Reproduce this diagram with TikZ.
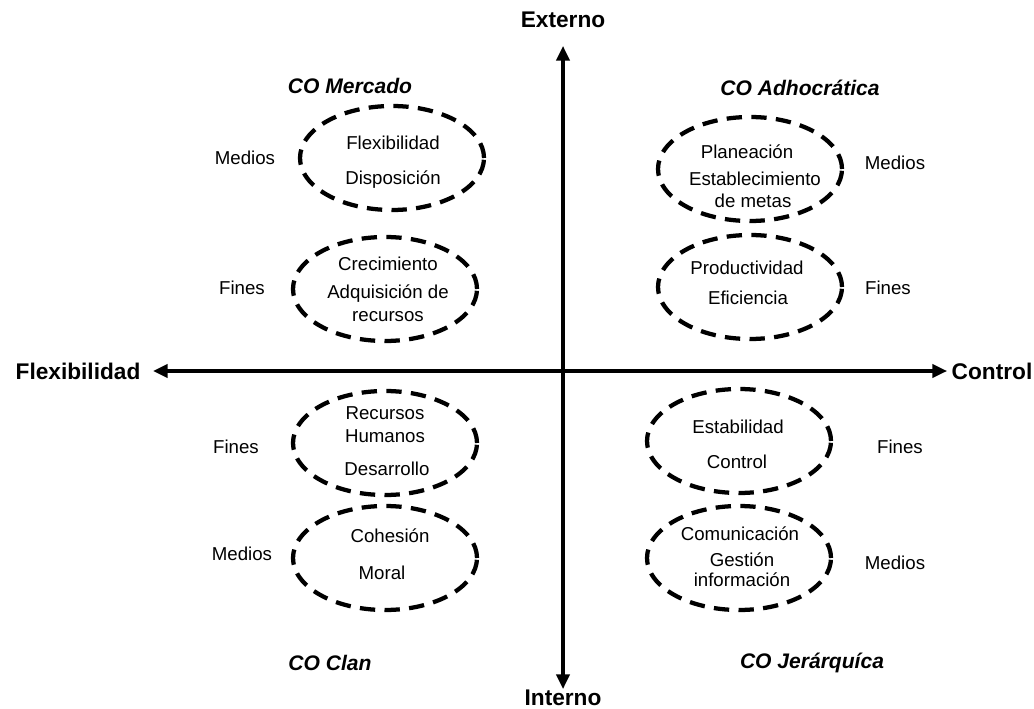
\documentclass[tikz,border=0pt]{standalone}
\usepackage{fontspec}
\setmainfont{Liberation Sans}
\usetikzlibrary{shapes.geometric,arrows.meta}
\begin{document}
\begin{tikzpicture}[x=0.75pt,y=-0.75pt,
  axislabel/.style={font=\fontsize{17}{20}\selectfont\bfseries, inner sep=0pt},
  typelabel/.style={font=\fontsize{15.8}{19}\selectfont\bfseries\itshape, inner sep=0pt},
  txt/.style={font=\fontsize{14}{16}\selectfont, inner sep=0pt},
  oval/.style={ellipse, draw, line width=3.2pt, dash pattern=on 11.5pt off 7pt,
    minimum width=138pt, minimum height=78pt, inner sep=0pt},
  axis/.style={line width=2.3pt, {Triangle[length=11pt,width=10pt]}-{Triangle[length=11pt,width=10pt]}}
]
\useasboundingbox (0,0) rectangle (1034,709);

% axes
\coordinate (west) at (153,371);
\coordinate (east) at (947,371);
\coordinate (north) at (563,46);
\coordinate (south) at (563,689);
\draw[axis] (west) -- (east);
\draw[axis] (north) -- (south);
\node[axislabel] (flex) at (78,371) {Flexibilidad};
\node[axislabel] (ctrl) at (992,371) {Control};
\node[axislabel] (ext) at (563,20) {Externo};
\node[axislabel] (int) at (563,698) {Interno};

% culture types
\node[typelabel] (mercado) at (350,86) {CO Mercado};
\node[typelabel] (adhoc) at (800,88) {CO Adhocrática};
\node[typelabel] (clan) at (330,663) {CO Clan};
\node[typelabel] (jerar) at (812,663) {CO Jerárquíca};

% CO Mercado
\node[oval] (m1) at (392,158) {};
\node[txt] (m1a) at (393,143) {Flexibilidad};
\node[txt] (m1b) at (393,180) {Disposición};
\node[txt] (m1l) at (245,158) {Medios};
\node[oval] (m2) at (385,289) {};
\node[txt] (m2a) at (388,264) {Crecimiento};
\node[txt] (m2b) at (388,294) {Adquisición de};
\node[txt] (m2c) at (388,317) {recursos};
\node[txt] (m2l) at (242,288) {Fines};

% CO Adhocrática
\node[oval] (a1) at (750,169) {};
\node[txt] (a1a) at (747,152) {Planeación};
\node[txt] (a1b) at (755,179) {Establecimiento};
\node[txt] (a1c) at (753,201) {de metas};
\node[txt] (a1l) at (895,163) {Medios};
\node[oval] (a2) at (750,287) {};
\node[txt] (a2a) at (747,268) {Productividad};
\node[txt] (a2b) at (748,298) {Eficiencia};
\node[txt] (a2l) at (888,288) {Fines};

% CO Clan
\node[oval] (c1) at (385,443) {};
\node[txt] (c1a) at (385,413) {Recursos};
\node[txt] (c1b) at (385,436) {Humanos};
\node[txt] (c1c) at (387,469) {Desarrollo};
\node[txt] (c1l) at (236,447) {Fines};
\node[oval] (c2) at (385,558) {};
\node[txt] (c2a) at (390,536) {Cohesión};
\node[txt] (c2b) at (382,573) {Moral};
\node[txt] (c2l) at (242,554) {Medios};

% CO Jerárquíca
\node[oval] (j1) at (739,441) {};
\node[txt] (j1a) at (738,427) {Estabilidad};
\node[txt] (j1b) at (737,462) {Control};
\node[txt] (j1l) at (900,447) {Fines};
\node[oval] (j2) at (739,558) {};
\node[txt] (j2a) at (740,534) {Comunicación};
\node[txt] (j2b) at (742,560) {Gestión};
\node[txt] (j2c) at (742,580) {información};
\node[txt] (j2l) at (895,563) {Medios};
\end{tikzpicture}
\end{document}
